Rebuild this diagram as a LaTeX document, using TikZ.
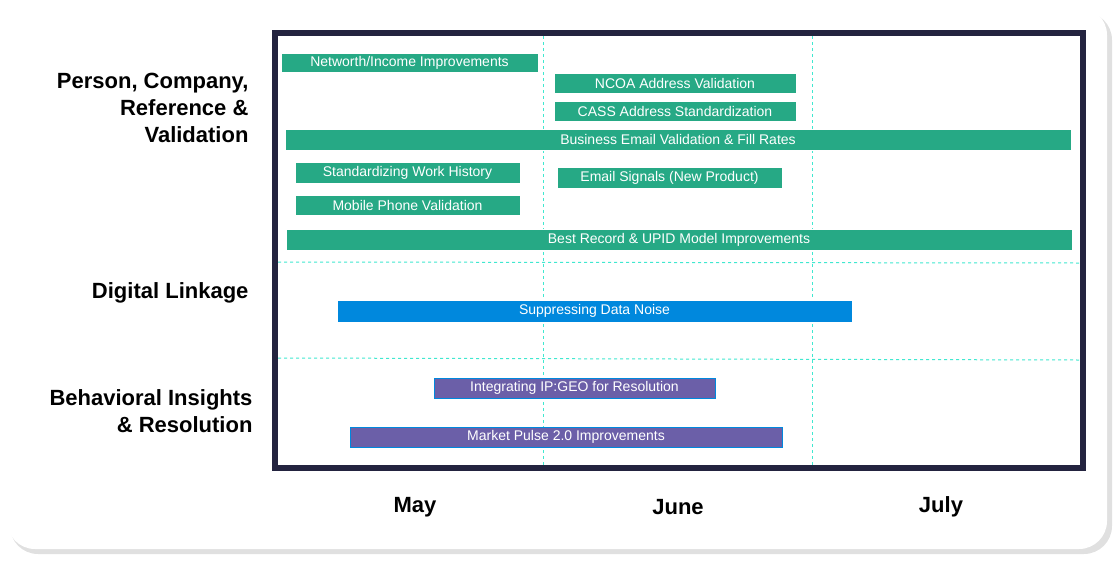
\documentclass[tikz,border=0pt]{standalone}
\usepackage{fontspec}
\setmainfont{Liberation Sans}
\usetikzlibrary{calc,positioning}
\definecolor{taskgreen}{HTML}{26A985}
\definecolor{taskblue}{HTML}{0088DD}
\definecolor{taskpurple}{HTML}{6B5FA8}
\definecolor{framenavy}{HTML}{23233F}
\definecolor{gridcyan}{HTML}{40E8D0}
\tikzset{
  taskbar/.style={draw=white, line width=0.6pt, inner sep=0pt, text=white, font=\fontsize{14}{14}\selectfont},
  greenbar/.style={taskbar, fill=taskgreen},
  bluebar/.style={taskbar, fill=taskblue},
  purplebar/.style={taskbar, fill=taskpurple, draw=taskblue},
  grouplabel/.style={align=right, anchor=east, font=\bfseries\fontsize{22}{27}\selectfont},
  monthlabel/.style={font=\bfseries\fontsize{22}{22}\selectfont},
  gridline/.style={gridcyan, dashed, line width=1pt}
}
% task bar from x1 to x2, y1 to y2 (pixels)
\newcommand{\ganttbar}[7]{%
  \node[#1, minimum width={(#4-#3)*1pt}, minimum height={(#6-#5)*1pt}] (#2) at ({(#3+#4)/2},{(#5+#6)/2}) {#7};}
\begin{document}
\begin{tikzpicture}[x=1pt, y=-1pt]
  \useasboundingbox (0,0) rectangle (1120,566);
  % card
  \fill[black!12, rounded corners=28pt] (10,12) rectangle (1112,554);
  \fill[white, rounded corners=28pt] (7,7) rectangle (1107,549);
  % chart frame
  \draw[framenavy, line width=6pt] (275,33) rectangle (1083,468);
  % grid
  \draw[gridline] (543,36) -- (543,465);
  \draw[gridline] (812,36) -- (812,465);
  \draw[gridline] (278,262) -- (1080,263);
  \draw[gridline] (278,358) -- (1080,360);
  % tasks
  \ganttbar{greenbar}{networth}{281}{538}{53}{72}{Networth/Income Improvements}
  \ganttbar{greenbar}{ncoa}{554}{796}{73}{93}{NCOA Address Validation}
  \ganttbar{greenbar}{cass}{554}{796}{101}{121}{CASS Address Standardization}
  \ganttbar{greenbar}{bizemail}{285}{1071}{129}{150}{Business Email Validation \& Fill Rates}
  \ganttbar{greenbar}{workhist}{295}{520}{162}{183}{Standardizing Work History}
  \ganttbar{greenbar}{emailsig}{557}{782}{167}{188}{Email Signals (New Product)}
  \ganttbar{greenbar}{mobile}{295}{520}{195}{215}{Mobile Phone Validation}
  \ganttbar{greenbar}{bestrec}{286}{1072}{229}{250}{Best Record \& UPID Model Improvements}
  \ganttbar{bluebar}{noise}{337}{852}{300}{322}{Suppressing Data Noise}
  \ganttbar{purplebar}{ipgeo}{434}{715}{378}{398}{Integrating IP:GEO for Resolution}
  \ganttbar{purplebar}{pulse}{350}{782}{427}{447}{Market Pulse 2.0 Improvements}
  % groups
  \node[grouplabel] (person) at (252,108) {Person, Company,\\Reference \&\\Validation};
  \node[grouplabel] (digital) at (252,293) {Digital Linkage};
  \node[grouplabel] (behav) at (256,411) {Behavioral Insights\\\& Resolution};
  % months
  \node[monthlabel] (may) at (415,507) {May};
  \node[monthlabel] (june) at (678,507) {June};
  \node[monthlabel] (july) at (941,507) {July};
\end{tikzpicture}
\end{document}
